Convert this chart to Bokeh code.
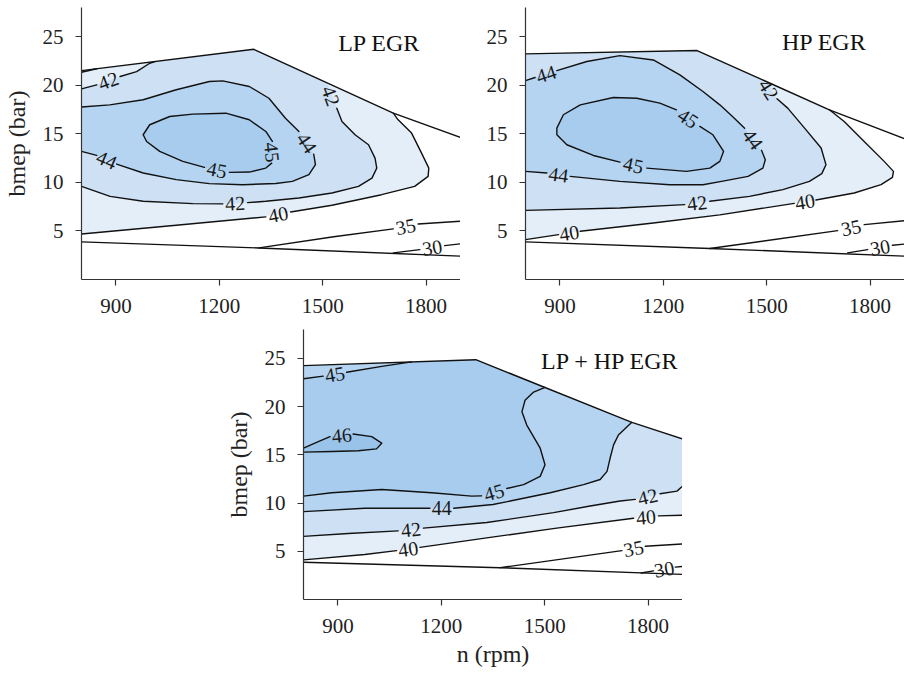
import numpy as np
from bokeh.plotting import figure
from bokeh.layouts import column, row
from bokeh.models import Range1d, FixedTicker, Label, ColumnDataSource
from bokeh.core.properties import value
from bokeh.embed import file_html
from bokeh.resources import INLINE

# ---------------- data (n in rpm, bmep in bar) ----------------
X_TICKS = [900, 1200, 1500, 1800]
Y_TICKS = [5, 10, 15, 20, 25]
N_RANGE = (800, 1900)
BMEP_RANGE = (0, 28)
LEVEL_COLORS = {40: "#e3eef9", 42: "#cde0f4", 44: "#b5d4f1", 45: "#a7ccee", 46: "#9ac3ea"}

# ---- LP EGR ----
LP_TOP = [(800, 21.5), (1300, 23.7), (1705, 17.12), (1900, 14.62)]
LP_BOTTOM = [(800, 3.87), (1315, 3.25), (1900, 2.4)]
LP_C30 = [[(1705, 2.74), (1782, 3.08)], [(1854, 3.49), (1900, 3.67)]]
LP_C35 = [[(1315, 3.25), (1532, 4.4), (1705, 5.21)], [(1777, 5.72), (1900, 6.0)]]
LP_C40 = [
    [(800, 4.69), (1075, 5.58), (1335, 6.45)],
    [(1407, 6.95), (1527, 7.64), (1671, 8.73), (1767, 9.59), (1806, 10.62), (1808, 11.47),
     (1787, 13.01), (1758, 15.07), (1719, 16.44), (1705, 17.12)],
    [(800, 21.33), (844, 21.7)],
]
LP_C42 = [
    [(800, 9.59), (883, 8.56), (979, 8.05), (1123, 7.81), (1210, 7.78)],
    [(1282, 7.91), (1335, 8.05), (1431, 8.39), (1527, 8.9), (1604, 9.59), (1643, 10.44),
     (1657, 11.47), (1652, 12.5), (1633, 13.87), (1594, 14.9), (1556, 16.27), (1541, 17.64)],
    [(800, 19.63), (844, 20.04)],
    [(912, 20.9), (960, 21.4), (998, 22.26), (1013, 22.43)],
]
LP_C44 = [
    [(800, 17.75), (882, 17.98), (979, 18.5), (1075, 19.53), (1171, 20.38), (1210, 20.45),
     (1287, 19.87), (1344, 18.66), (1392, 16.6), (1431, 15.24)],
    [(1474, 12.9), (1479, 11.82), (1460, 10.79), (1412, 10.1), (1364, 9.88), (1268, 9.76),
     (1171, 9.87), (1075, 10.28), (979, 10.96), (902, 11.88)],
    [(844, 12.77), (800, 13.19)],
]
LP_C45 = [
    [(1229, 11.03), (1287, 11.06), (1335, 11.47), (1352, 11.98)],
    [(1354, 14.21), (1335, 15.24), (1287, 16.44), (1219, 17.12), (1123, 17.02), (1056, 16.78),
     (998, 15.93), (979, 14.9), (989, 14.21), (1027, 13.19), (1094, 12.16), (1157, 11.54)],
]
LP_LABELS = [("40", 1371, 6.7, 11), ("42", 1246, 7.85, 3), ("42", 878, 20.47, 20),
             ("42", 1524, 18.9, -70), ("44", 873, 12.33, -23), ("44", 1454, 14.07, -56),
             ("45", 1193, 11.29, -11), ("45", 1353, 13.1, -84), ("35", 1741, 5.47, 11),
             ("30", 1818, 3.29, 9)]

# ---- HP EGR ----
HP_TOP = [(800, 23.23), (1298, 23.57), (1682, 17.47), (1900, 14.5)]
HP_BOTTOM = [(800, 3.87), (1335, 3.19), (1900, 2.4)]
HP_C30 = [[(1735, 2.74), (1793, 3.08)], [(1865, 3.52), (1900, 3.65)]]
HP_C35 = [[(1335, 3.19), (1706, 5.03)], [(1783, 5.65), (1900, 6.05)]]
HP_C40 = [
    [(800, 4.11), (896, 4.62)],
    [(959, 4.96), (1171, 5.82), (1364, 6.65), (1580, 7.84)],
    [(1643, 8.18), (1754, 8.9), (1832, 9.76), (1865, 10.51), (1868, 11.13), (1841, 12.16),
     (1783, 14.21), (1725, 16.27), (1682, 17.47)],
]
HP_C42 = [
    [(800, 7.12), (1074, 7.36), (1262, 7.71)],
    [(1335, 8.05), (1450, 8.56), (1547, 9.25), (1624, 10.1), (1660, 10.9), (1672, 11.82),
     (1658, 13.53), (1610, 15.58), (1561, 17.64), (1530, 18.6)],
]
HP_C44 = [
    [(800, 20.48), (828, 20.79)],
    [(891, 21.5), (978, 22.44), (1074, 23.05), (1171, 22.6), (1248, 21.07), (1315, 19.35),
     (1364, 17.98), (1400, 16.8), (1436, 15.58)],
    [(1485, 13.3), (1496, 12.33), (1489, 11.47), (1446, 10.62), (1369, 10.1), (1315, 9.76),
     (1219, 9.76), (1074, 10.1), (930, 10.62)],
    [(862, 10.96), (800, 11.13)],
]
HP_C45 = [
    [(1306, 15.76), (1344, 14.9), (1375, 13.19), (1364, 12.16), (1335, 11.47), (1267, 11.13),
     (1152, 11.47)],
    [(1074, 12.09), (997, 12.77), (920, 13.87), (891, 14.9), (891, 15.58), (910, 16.96),
     (959, 17.98), (1055, 18.74), (1123, 18.66), (1190, 18.15), (1238, 17.47)],
]
HP_LABELS = [("40", 927, 4.79, 9), ("40", 1611, 8.01, 9), ("42", 1298, 7.88, 7),
             ("42", 1506, 19.55, -58), ("44", 860, 21.15, 18), ("44", 1460, 14.45, -54),
             ("44", 896, 10.79, -8), ("45", 1272, 16.6, -33), ("45", 1113, 11.78, -12),
             ("35", 1745, 5.34, 12), ("30", 1829, 3.3, 10)]

# ---- LP + HP EGR ----
LH_TOP = [(800, 24.25), (1300, 24.87), (1753, 18.37), (1900, 16.65)]
LH_BOTTOM = [(800, 3.87), (1371, 3.3), (1900, 2.6)]
LH_C30 = [[(1780, 2.75), (1816, 2.97)], [(1879, 3.36), (1900, 3.43)]]
LH_C35 = [[(1371, 3.3), (1724, 5.07)], [(1792, 5.52), (1900, 5.76)]]
LH_C40 = [
    [(800, 4.11), (978, 4.66), (1070, 5.07)],
    [(1138, 5.41), (1342, 6.44), (1535, 7.4), (1758, 8.43)],
    [(1830, 8.67), (1900, 8.74)],
]
LH_C42 = [
    [(800, 6.55), (930, 6.85), (1075, 7.12)],
    [(1148, 7.4), (1332, 7.98), (1526, 9.01), (1632, 9.69), (1719, 10.21), (1763, 10.38)],
    [(1835, 10.96), (1884, 11.24), (1900, 11.75)],
]
LH_C44 = [
    [(800, 9.11), (978, 9.46), (1167, 9.46)],
    [(1236, 9.46), (1350, 9.85), (1400, 10.21), (1516, 11.07), (1613, 11.92), (1661, 12.44),
     (1681, 13.29), (1690, 14.67), (1700, 16.03), (1714, 17.06), (1753, 18.37)],
]
LH_C45 = [
    [(800, 10.72), (882, 11.07), (1027, 11.41), (1172, 11.07), (1288, 10.72), (1317, 10.75)],
    [(1390, 11.51), (1439, 11.92), (1487, 12.77), (1501, 13.98), (1487, 15.69), (1448, 18.09),
     (1434, 19.46), (1443, 20.66), (1468, 21.51), (1501, 21.99)],
    [(800, 22.89), (857, 23.16)],
    [(925, 23.57), (1027, 24.18), (1114, 24.64)],
]
LH_C46 = [
    [(800, 15.69), (843, 16.37), (877, 16.89)],
    [(944, 17.16), (998, 16.89), (1027, 16.21), (1012, 15.62), (959, 15.42), (882, 15.35),
     (800, 15.28)],
]
LH_LABELS = [("40", 1104, 5.24, 8), ("40", 1794, 8.55, 5), ("42", 1112, 7.26, 6),
             ("42", 1799, 10.67, 13), ("44", 1201, 9.46, 0), ("45", 891, 23.36, 10),
             ("45", 1353, 11.13, 16), ("46", 911, 17.03, 6), ("35", 1758, 5.3, 11),
             ("30", 1847, 3.16, 10)]

TITLES = ["LP EGR", "HP EGR", "LP + HP EGR"]
TITLE_POS = [(1664, 24.3), (1667, 24.4), (1690, 24.77)]


# ---------------- helpers ----------------
def chain(*segs):
    out = []
    for s in segs:
        out.extend(s)
    return out


def rev(seg):
    return list(reversed(seg))


def env_path(env, n_from, n_to):
    xs = [q[0] for q in env]
    ys = [q[1] for q in env]
    pts = [(n_from, float(np.interp(n_from, xs, ys)))]
    for x, y in reversed(env):
        if n_to < x < n_from:
            pts.append((x, y))
    pts.append((n_to, float(np.interp(n_to, xs, ys))))
    return pts


LP_FILLS = [
    (40, chain(LP_C40[0], LP_C40[1], env_path(LP_TOP, 1705, 844), rev(LP_C40[2]))),
    (42, chain(LP_C42[0], LP_C42[1], env_path(LP_TOP, 1513, 1013), rev(LP_C42[3]), rev(LP_C42[2]))),
    (44, chain(*LP_C44)),
    (45, chain(LP_C45[1], LP_C45[0])),
]
HP_FILLS = [
    (40, chain(*HP_C40, env_path(HP_TOP, 1682, 800))),
    (42, chain(*HP_C42, env_path(HP_TOP, 1500, 800))),
    (44, chain(*HP_C44)),
    (45, chain(*HP_C45)),
]
LH_FILLS = [
    (40, chain(*LH_C40, env_path(LH_TOP, 1900, 800))),
    (42, chain(*LH_C42, env_path(LH_TOP, 1900, 800))),
    (44, chain(*LH_C44, env_path(LH_TOP, 1753, 800))),
    (45, chain(LH_C45[0], LH_C45[1], env_path(LH_TOP, 1501, 1114), rev(LH_C45[3]), rev(LH_C45[2]))),
    (46, chain(*LH_C46)),
]

SERIF = "Liberation Serif"


def make_panel(fills, lines, labels, title, title_xy, width, height, mb_left, mb_top, mb_bottom,
               ylabel=None, xlabel=None):
    p = figure(width=width, height=height, x_range=Range1d(*N_RANGE), y_range=Range1d(*BMEP_RANGE),
               output_backend="svg", toolbar_location=None,
               min_border_left=mb_left, min_border_right=0, min_border_top=mb_top,
               min_border_bottom=mb_bottom)
    p.outline_line_color = None
    p.xgrid.grid_line_color = None
    p.ygrid.grid_line_color = None
    p.background_fill_color = "white"
    p.border_fill_color = "white"

    for level, poly in fills:
        p.patch([q[0] for q in poly], [q[1] for q in poly], fill_color=LEVEL_COLORS[level],
                line_color=None)

    p.multi_line([[q[0] for q in seg] for seg in lines], [[q[1] for q in seg] for seg in lines],
                 line_color="#111111", line_width=1.4, line_join="round", line_cap="round")

    src = ColumnDataSource(dict(x=[l[1] for l in labels], y=[l[2] for l in labels],
                                text=[l[0] for l in labels], angle=[l[3] for l in labels]))
    p.text(x="x", y="y", text="text", angle="angle", angle_units="deg", source=src,
           text_align="center", text_baseline="middle", text_font=value(SERIF),
           text_font_size=value("20px"), text_color="#1a1a1a")

    p.add_layout(Label(x=title_xy[0], y=title_xy[1], text=title, text_align="center",
                       text_baseline="middle", text_font=SERIF, text_font_size="24px",
                       text_color="#111111"))

    for ax in (p.xaxis[0], p.yaxis[0]):
        ax.axis_line_color = "#333333"
        ax.axis_line_width = 1.2
        ax.major_tick_line_color = "#333333"
        ax.major_tick_line_width = 1.2
        ax.major_tick_out = 6
        ax.major_tick_in = 0
        ax.minor_tick_line_color = None
        ax.major_label_text_font = SERIF
        ax.major_label_text_font_size = "21px"
        ax.major_label_text_color = "#222222"
    p.xaxis.ticker = FixedTicker(ticks=X_TICKS)
    p.yaxis.ticker = FixedTicker(ticks=Y_TICKS)
    p.yaxis.major_label_standoff = 12
    p.xaxis.major_label_standoff = 13
    if ylabel:
        p.yaxis.axis_label = ylabel
        p.yaxis.axis_label_standoff = 10
        p.yaxis.axis_label_text_font = SERIF
        p.yaxis.axis_label_text_font_size = "24px"
        p.yaxis.axis_label_text_font_style = "normal"
        p.yaxis.axis_label_text_color = "#222222"
    if xlabel:
        p.xaxis.axis_label = xlabel
        p.xaxis.axis_label_standoff = 5
        p.xaxis.axis_label_text_font = SERIF
        p.xaxis.axis_label_text_font_size = "24px"
        p.xaxis.axis_label_text_font_style = "normal"
        p.xaxis.axis_label_text_color = "#222222"
    return p


lp_lines = [LP_TOP, LP_BOTTOM] + LP_C30 + LP_C35 + LP_C40 + LP_C42 + LP_C44 + LP_C45
hp_lines = [HP_TOP, HP_BOTTOM] + HP_C30 + HP_C35 + HP_C40 + HP_C42 + HP_C44 + HP_C45
lh_lines = [LH_TOP, LH_BOTTOM] + LH_C30 + LH_C35 + LH_C40 + LH_C42 + LH_C44 + LH_C45 + LH_C46

p1 = make_panel(LP_FILLS, lp_lines, LP_LABELS, TITLES[0], TITLE_POS[0], 460, 322, 80, 7, 43,
                ylabel="bmep (bar)")
p2 = make_panel(HP_FILLS, hp_lines, HP_LABELS, TITLES[1], TITLE_POS[1], 444, 322, 65, 7, 43)
p3 = make_panel(LH_FILLS, lh_lines, LH_LABELS, TITLES[2], TITLE_POS[2], 682, 351, 303, 7, 74,
                ylabel="bmep (bar)", xlabel="n (rpm)")

layout = column(row(p1, p2), p3)
open("out.html", "w").write(file_html(layout, INLINE))
